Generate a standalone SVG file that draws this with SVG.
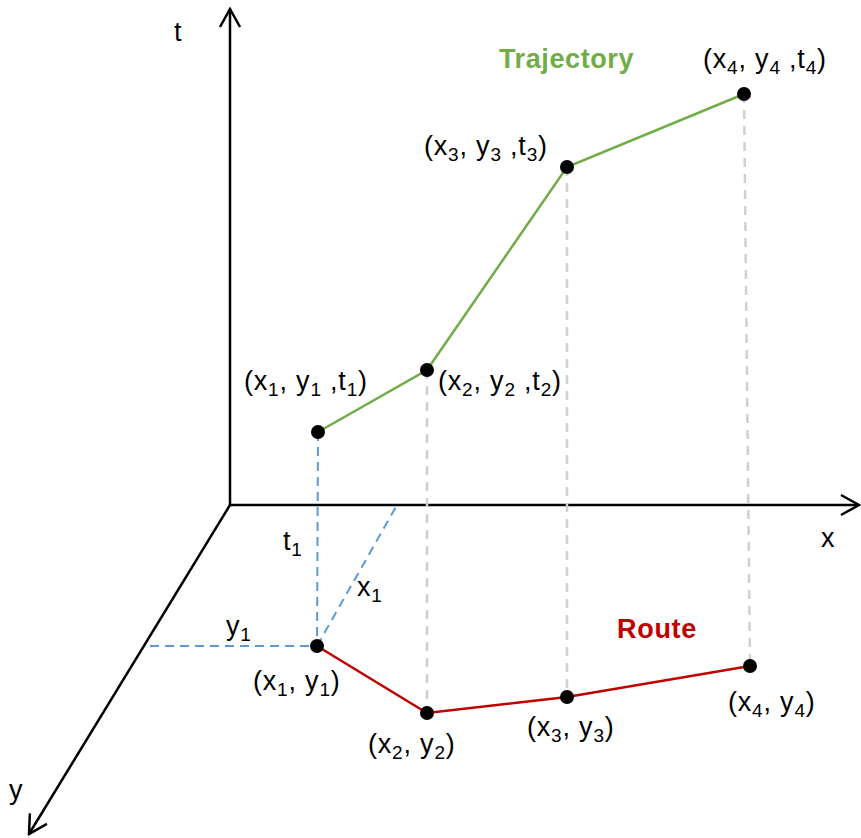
<svg xmlns="http://www.w3.org/2000/svg" width="861" height="838" viewBox="0 0 861 838">
<defs>
<marker id="arr" viewBox="0 0 22 24" refX="20" refY="12" markerWidth="22" markerHeight="24" markerUnits="userSpaceOnUse" orient="auto">
<path d="M2,2 L20,12 L2,22" fill="none" stroke="#000" stroke-width="2.5"/>
</marker>
<style>
.axis{stroke:#000;stroke-width:2.5;fill:none}
.lbl{font-family:"Liberation Sans",Arial,sans-serif;font-size:27px;fill:#000;letter-spacing:0.8px}
.sub{font-size:19px}
.gray{stroke:#D0D0D0;stroke-width:2.5;stroke-dasharray:9,7;fill:none}
.blue{stroke:#5B9BD5;stroke-width:2;stroke-dasharray:9,6;fill:none}
.traj{stroke:#70AD47;stroke-width:2.5;fill:none}
.route{stroke:#C00000;stroke-width:2.5;fill:none}
.dot{fill:#000}
.title{font-family:"Liberation Sans",Arial,sans-serif;font-size:27px;font-weight:bold}
</style>
</defs>
<rect width="861" height="838" fill="#fff"/>
<g id="axes">
<line class="axis" x1="230" y1="505" x2="230" y2="9" marker-end="url(#arr)"/>
<line class="axis" x1="230" y1="505" x2="859" y2="505" marker-end="url(#arr)"/>
<line class="axis" x1="230" y1="505" x2="29" y2="834" marker-end="url(#arr)"/>
<text class="lbl" x="174" y="41">t</text>
<text class="lbl" x="821" y="547">x</text>
<text class="lbl" x="9" y="799">y</text>
</g>
<g id="connectors">
<line class="gray" x1="427" y1="370" x2="427" y2="713"/>
<line class="gray" x1="567" y1="167" x2="567" y2="697"/>
<line class="gray" x1="744" y1="94" x2="750" y2="666"/>
<line class="blue" x1="318" y1="432" x2="317" y2="646"/>
<line class="blue" x1="150" y1="646" x2="317" y2="646"/>
<line class="blue" x1="317" y1="646" x2="397" y2="505"/>
<polyline class="traj" points="318,432 427,370 567,167 744,94"/>
<polyline class="route" points="317,646 427,713 567,697 750,666"/>
</g>
<g id="trajectory-label"><text class="title" x="499" y="68" fill="#70AD47" style="letter-spacing:0.6px">Trajectory</text></g>
<g id="route-label"><text class="title" x="617" y="638" fill="#C00000" style="letter-spacing:0.7px">Route</text></g>
<g id="p1"><circle class="dot" cx="318" cy="432" r="7"/>
<text class="lbl" x="244" y="390">(x<tspan class="sub" dy="6">1</tspan><tspan dy="-6">, y</tspan><tspan class="sub" dy="6">1</tspan><tspan dy="-6"> ,t</tspan><tspan class="sub" dy="6">1</tspan><tspan dy="-6">)</tspan></text></g>
<g id="p2"><circle class="dot" cx="427" cy="370" r="7"/>
<text class="lbl" x="438" y="390">(x<tspan class="sub" dy="6">2</tspan><tspan dy="-6">, y</tspan><tspan class="sub" dy="6">2</tspan><tspan dy="-6"> ,t</tspan><tspan class="sub" dy="6">2</tspan><tspan dy="-6">)</tspan></text></g>
<g id="p3"><circle class="dot" cx="567" cy="167" r="7"/>
<text class="lbl" x="424" y="155">(x<tspan class="sub" dy="6">3</tspan><tspan dy="-6">, y</tspan><tspan class="sub" dy="6">3</tspan><tspan dy="-6"> ,t</tspan><tspan class="sub" dy="6">3</tspan><tspan dy="-6">)</tspan></text></g>
<g id="p4"><circle class="dot" cx="744" cy="94" r="7"/>
<text class="lbl" x="703" y="68">(x<tspan class="sub" dy="6">4</tspan><tspan dy="-6">, y</tspan><tspan class="sub" dy="6">4</tspan><tspan dy="-6"> ,t</tspan><tspan class="sub" dy="6">4</tspan><tspan dy="-6">)</tspan></text></g>
<g id="r1"><circle class="dot" cx="317" cy="646" r="7"/>
<text class="lbl" x="253" y="690">(x<tspan class="sub" dy="6">1</tspan><tspan dy="-6">, y</tspan><tspan class="sub" dy="6">1</tspan><tspan dy="-6">)</tspan></text></g>
<g id="r2"><circle class="dot" cx="427" cy="713" r="7"/>
<text class="lbl" x="368" y="753">(x<tspan class="sub" dy="6">2</tspan><tspan dy="-6">, y</tspan><tspan class="sub" dy="6">2</tspan><tspan dy="-6">)</tspan></text></g>
<g id="r3"><circle class="dot" cx="567" cy="697" r="7"/>
<text class="lbl" x="527" y="736">(x<tspan class="sub" dy="6">3</tspan><tspan dy="-6">, y</tspan><tspan class="sub" dy="6">3</tspan><tspan dy="-6">)</tspan></text></g>
<g id="r4"><circle class="dot" cx="750" cy="666" r="7"/>
<text class="lbl" x="728" y="711">(x<tspan class="sub" dy="6">4</tspan><tspan dy="-6">, y</tspan><tspan class="sub" dy="6">4</tspan><tspan dy="-6">)</tspan></text></g>
<g id="t1"><text class="lbl" x="283" y="550">t<tspan class="sub" dy="6">1</tspan></text></g>
<g id="x1"><text class="lbl" x="357" y="596">x<tspan class="sub" dy="6">1</tspan></text></g>
<g id="y1"><text class="lbl" x="226" y="635">y<tspan class="sub" dy="6">1</tspan></text></g>
</svg>
